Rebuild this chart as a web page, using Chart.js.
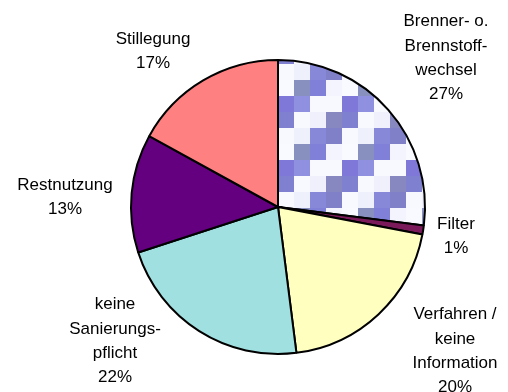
<!DOCTYPE html>
<html>
<head>
<meta charset="utf-8">
<script src="https://cdn.jsdelivr.net/npm/chart.js@4/dist/chart.umd.min.js"></script>
<style>
  html, body { margin: 0; padding: 0; background: #fff; }
  #wrap { width: 508px; height: 392px; }
</style>
</head>
<body>
<div id="wrap"><canvas id="pieChart" width="508" height="392"></canvas></div>
<script>
// Categories (label lines), shares in percent, fill colours
const categories = [
    ['Brenner- o.', 'Brennstoff-', 'wechsel'],
    ['Filter'],
    ['Verfahren /', 'keine', 'Information'],
    ['keine', 'Sanierungs-', 'pflicht'],
    ['Restnutzung'],
    ['Stillegung']
];
const shares = [27, 1, 20, 22, 13, 17];
const sliceColors = [null, '#7a1a5a', '#ffffc0', '#a0e0e0', '#640080', '#ff8080'];

// label block centre, offset from the pie centre
const labelOffsets = [
    [168, -149], [178, 29], [177, 144], [-163, 134], [-213, -10], [-125, -156]
];

// staircase pattern for the first slice (4x4 cells of 16px)
function makeStairPattern(ctx) {
    const cells = [
        ['#f8f8ff', '#eef0fc', '#8888d8', '#8080c8'],
        ['#f8faff', '#8890c0', '#8080d8', '#f4f4ff'],
        ['#8078d8', '#9090e0', '#f8f8ff', '#f8f8ff'],
        ['#8080d0', '#f8f8ff', '#f0f0fc', '#8888c0']
    ];
    const tile = document.createElement('canvas');
    tile.width = 64;
    tile.height = 64;
    const t = tile.getContext('2d');
    cells.forEach((row, r) => {
        row.forEach((c, col) => {
            t.fillStyle = c;
            t.fillRect(col * 16, r * 16, 16, 16);
        });
    });
    return ctx.createPattern(tile, 'repeat');
}

const canvas = document.getElementById('pieChart');
const ctx = canvas.getContext('2d');
const stairs = makeStairPattern(ctx);
sliceColors[0] = stairs;

const pieLabels = {
    id: 'pieLabels',
    beforeDatasetsDraw(chart) {
        // anchor the pattern grid to the pie centre
        const arc = chart.getDatasetMeta(0).data[0];
        if (arc) stairs.setTransform(new DOMMatrix([1, 0, 0, 1, arc.x, arc.y - 143]));
    },
    afterDatasetsDraw(chart) {
        const c = chart.ctx;
        const meta = chart.getDatasetMeta(0);
        c.save();
        c.font = '17px "Liberation Sans", Arial, sans-serif';
        c.fillStyle = '#000';
        c.textAlign = 'center';
        c.textBaseline = 'middle';
        const lineH = 24.3;
        meta.data.forEach((arc, i) => {
            const lines = categories[i].concat([shares[i] + '%']);
            const cx = arc.x + labelOffsets[i][0];
            const cy = arc.y + labelOffsets[i][1];
            const top = cy - (lines.length - 1) * lineH / 2;
            lines.forEach((txt, k) => c.fillText(txt, cx, top + k * lineH));
        });
        c.restore();
    }
};

new Chart(canvas, {
    type: 'pie',
    data: {
        labels: categories.map(l => l.join(' ')),
        datasets: [{
            data: shares,
            backgroundColor: sliceColors,
            borderColor: '#000',
            borderWidth: 2
        }]
    },
    options: {
        responsive: false,
        animation: false,
        layout: { padding: { left: 130, right: 82, top: 59, bottom: 37 } },
        plugins: {
            legend: { display: false },
            tooltip: { enabled: false }
        }
    },
    plugins: [pieLabels]
});
</script>
</body>
</html>
